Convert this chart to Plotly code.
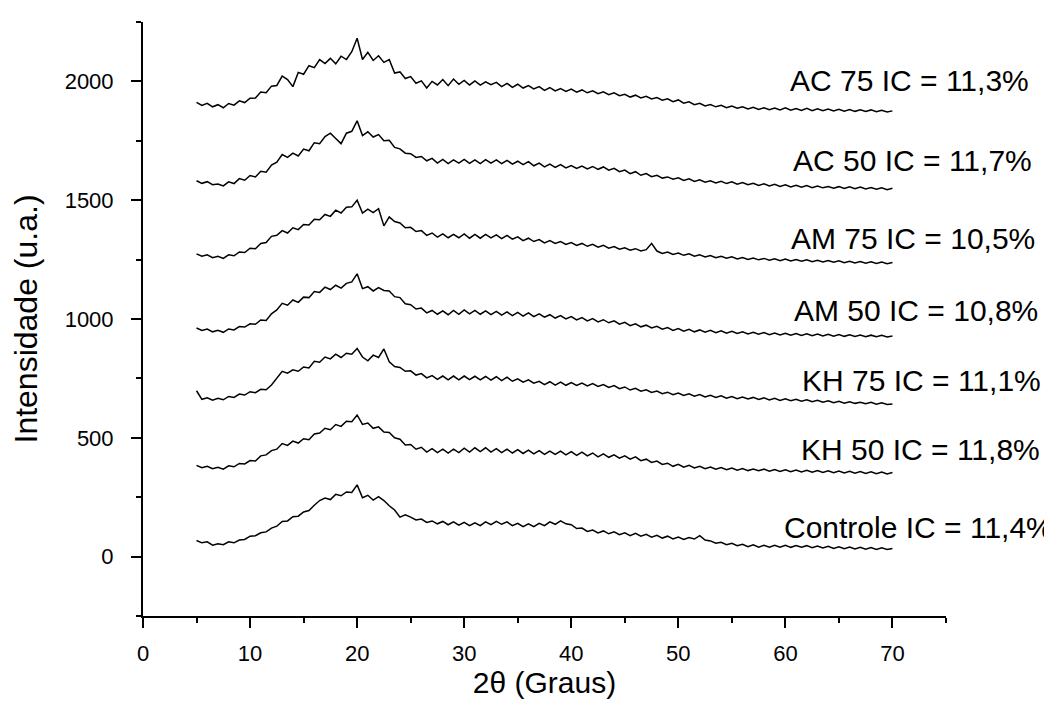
import plotly.graph_objects as go

# 2-theta sampling grid (degrees), 5.0 .. 70.0 every 0.5
two_theta = [5.0 + 0.5 * i for i in range(131)]

ac75 = [
    1912, 1899, 1908, 1893, 1902, 1889, 1907, 1900, 1918, 1911,
    1929, 1930, 1955, 1952, 1980, 1983, 2022, 2008, 1978, 2038,
    2030, 2066, 2058, 2092, 2075, 2097, 2074, 2106, 2092, 2125,
    2182, 2092, 2122, 2088, 2108, 2080, 2092, 2035, 2040, 2012,
    2020, 1992, 2002, 1972, 2000, 1985, 2008, 1982, 2010, 1988,
    2004, 1985, 2002, 1984, 1998, 1986, 1996, 1978, 1992, 1975,
    1988, 1972, 1982, 1968, 1978, 1962, 1974, 1960, 1970, 1958,
    1968, 1955, 1964, 1952, 1960, 1948, 1956, 1944, 1952, 1940,
    1946, 1934, 1942, 1930, 1937, 1926, 1932, 1921, 1927, 1915,
    1922, 1908, 1914, 1902, 1908, 1897, 1903, 1893, 1899, 1889,
    1896, 1887, 1893, 1884, 1891, 1882, 1889, 1881, 1888, 1880,
    1889, 1879, 1886, 1878, 1887, 1877, 1885, 1877, 1884, 1876,
    1883, 1875, 1882, 1874, 1881, 1873, 1880, 1872, 1878, 1871,
    1876,
]

ac50 = [
    1582, 1571, 1578, 1565, 1568, 1560, 1577, 1570, 1591, 1584,
    1604, 1598, 1622, 1618, 1648, 1660, 1692, 1680, 1698, 1686,
    1715, 1708, 1742, 1738, 1768, 1782, 1760, 1738, 1782, 1790,
    1834, 1772, 1788, 1766, 1776, 1750, 1752, 1722, 1716, 1698,
    1696, 1680, 1684, 1666, 1676, 1656, 1672, 1654, 1670, 1656,
    1672, 1655, 1670, 1654, 1671, 1656, 1670, 1654, 1668, 1652,
    1664, 1650, 1662, 1645, 1656, 1640, 1652, 1638, 1650, 1636,
    1646, 1634, 1644, 1632, 1642, 1630, 1640, 1626, 1634, 1620,
    1627, 1612, 1620, 1605, 1612, 1599, 1605, 1593, 1598, 1588,
    1594, 1583, 1590, 1579, 1586, 1576, 1582, 1573, 1580, 1570,
    1577, 1567, 1574, 1565, 1571, 1562, 1569, 1560, 1567, 1558,
    1565, 1556, 1563, 1555, 1562, 1553, 1560, 1552, 1558, 1550,
    1557, 1549, 1556, 1548, 1555, 1547, 1553, 1546, 1552, 1544,
    1550,
]

am75 = [
    1274, 1264, 1270, 1258, 1264, 1255, 1270, 1266, 1282, 1280,
    1298, 1296, 1318, 1322, 1348, 1352, 1372, 1362, 1384, 1376,
    1398, 1396, 1420, 1418, 1440, 1432, 1458, 1446, 1470, 1472,
    1500, 1446, 1462, 1448, 1464, 1392, 1430, 1410, 1404, 1384,
    1386, 1368, 1372, 1352, 1362, 1345, 1358, 1342, 1356, 1342,
    1358, 1340, 1356, 1340, 1356, 1341, 1354, 1338, 1352, 1336,
    1346, 1330, 1340, 1326, 1334, 1320, 1330, 1318, 1326, 1314,
    1322, 1310, 1318, 1306, 1314, 1302, 1310, 1298, 1305, 1294,
    1300, 1290, 1296, 1286, 1292, 1318, 1286, 1276, 1282, 1272,
    1278, 1268, 1274, 1264, 1270, 1261, 1267, 1258, 1264, 1256,
    1262, 1253, 1259, 1251, 1257, 1249, 1255, 1247, 1253, 1245,
    1252, 1244, 1250, 1243, 1249, 1241, 1247, 1240, 1246, 1239,
    1245, 1237, 1243, 1236, 1242, 1235, 1241, 1234, 1240, 1233,
    1238,
]

am50 = [
    962, 952, 958, 946, 952, 944, 958, 954, 968, 966,
    980, 978, 996, 994, 1022, 1038, 1066, 1058, 1080, 1070,
    1092, 1090, 1116, 1112, 1134, 1124, 1142, 1130, 1150, 1156,
    1190, 1128, 1136, 1118, 1132, 1120, 1118, 1094, 1090, 1064,
    1060, 1042, 1046, 1026, 1036, 1020, 1034, 1018, 1036, 1020,
    1038, 1022, 1036, 1020, 1034, 1018, 1032, 1016, 1030, 1014,
    1028, 1012, 1026, 1010, 1022, 1008, 1018, 1004, 1014, 1000,
    1010, 996, 1006, 992, 1002, 988, 997, 984, 992, 978,
    986, 972, 980, 967, 974, 962, 969, 957, 964, 952,
    960, 949, 957, 946, 954, 944, 952, 942, 950, 940,
    948, 939, 946, 937, 944, 936, 943, 934, 941, 933,
    940, 932, 939, 931, 938, 930, 937, 929, 936, 928,
    935, 927, 934, 926, 933, 925, 932, 925, 931, 924,
    928,
]

kh75 = [
    698, 662, 668, 658, 666, 660, 674, 670, 684, 680,
    694, 690, 704, 702, 722, 750, 780, 772, 786, 780,
    798, 794, 822, 818, 840, 832, 852, 838, 856, 852,
    876, 840, 824, 848, 838, 874, 820, 800, 796, 780,
    782, 764, 770, 752, 762, 746, 760, 744, 760, 744,
    760, 745, 759, 744, 758, 743, 757, 741, 755, 738,
    748, 734, 744, 730, 738, 724, 736, 722, 734, 721,
    732, 720, 730, 718, 728, 716, 724, 712, 720, 707,
    714, 701, 708, 696, 702, 691, 697, 686, 692, 681,
    688, 678, 685, 675, 682, 672, 679, 670, 677, 667,
    674, 665, 672, 663, 670, 661, 668, 659, 666, 657,
    664, 656, 662, 654, 660, 652, 658, 650, 656, 648,
    654, 646, 652, 645, 650, 643, 649, 641, 647, 640,
    642,
]

kh50 = [
    384, 374, 380, 370, 376, 368, 382, 378, 392, 390,
    404, 402, 424, 428, 446, 452, 476, 468, 486, 478,
    496, 492, 516, 520, 540, 534, 556, 548, 570, 568,
    596, 556, 562, 540, 546, 524, 522, 500, 494, 470,
    472, 452, 460, 440, 454, 438, 452, 436, 452, 438,
    456, 440, 458, 442, 458, 440, 454, 438, 452, 436,
    450, 434, 448, 432, 446, 430, 444, 430, 444, 428,
    442, 426, 440, 424, 436, 420, 432, 418, 428, 414,
    424, 410, 420, 404, 410, 396, 402, 388, 393, 380,
    388, 376, 384, 373, 380, 370, 377, 368, 375, 366,
    373, 364, 371, 362, 369, 361, 368, 359, 366, 358,
    365, 357, 364, 356, 363, 355, 362, 354, 361, 353,
    360, 352, 359, 351, 358, 350, 357, 349, 356, 348,
    354,
]

controle = [
    68, 58, 62, 48, 54, 50, 62, 58, 70, 72,
    86, 88, 100, 104, 120, 128, 148, 150, 168, 170,
    188, 194, 216, 236, 246, 240, 262, 256, 272, 270,
    302, 248, 258, 238, 252, 236, 214, 196, 166, 176,
    166, 154, 158, 144, 150, 138, 148, 134, 146, 132,
    144, 130, 142, 130, 146, 134, 148, 136, 146, 130,
    140, 126, 138, 126, 140, 130, 146, 136, 150, 138,
    134, 118, 120, 106, 112, 100, 108, 96, 104, 92,
    100, 88, 98, 86, 94, 82, 90, 78, 86, 74,
    82, 72, 80, 74, 88, 70, 66, 56, 60, 50,
    56, 46, 52, 42, 50, 40, 48, 40, 48, 40,
    48, 39, 47, 39, 46, 37, 44, 36, 43, 34,
    41, 33, 40, 32, 39, 31, 38, 30, 37, 30,
    34,
]

series = [ac75, ac50, am75, am50, kh75, kh50, controle]
labels = [
    "AC 75 IC = 11,3%",
    "AC 50 IC = 11,7%",
    "AM 75 IC = 10,5%",
    "AM 50 IC = 10,8%",
    "KH 75 IC = 11,1%",
    "KH 50 IC = 11,8%",
    "Controle IC = 11,4%",
]
# label anchor: right edge (in 2-theta units, beyond the axis end) and middle y
label_x = [82.9, 83.2, 83.5, 83.8, 84.1, 84.0, 85.2]
label_y = [2004, 1668, 1340, 1037, 743, 449, 121]

X_MIN, X_MAX = 0, 75
FONT = "Liberation Sans, Arial, sans-serif"

fig = go.Figure()
for vals, name in zip(series, labels):
    fig.add_trace(go.Scatter(
        x=two_theta, y=vals, mode="lines", name=name,
        line=dict(color="black", width=1.5), showlegend=False,
    ))

for txt, lx, ly in zip(labels, label_x, label_y):
    fig.add_annotation(
        x=(lx - X_MIN) / (X_MAX - X_MIN), y=ly, xref="paper", yref="y",
        text=txt, showarrow=False,
        xanchor="right", yanchor="middle",
        font=dict(family=FONT, size=30, color="black"),
    )

axis_common = dict(
    showline=True, linewidth=2, linecolor="black", mirror=False,
    showgrid=False, zeroline=False, automargin=False,
    ticks="outside", ticklen=10, tickwidth=2, tickcolor="black",
    tickfont=dict(family=FONT, size=22, color="black"),
)

fig.update_xaxes(
    range=[X_MIN, X_MAX], tickmode="linear", tick0=0, dtick=10,
    minor=dict(ticks="outside", ticklen=5, tickwidth=2, tickcolor="black",
               tick0=5, dtick=10),
    title=dict(text="2θ (Graus)", font=dict(family=FONT, size=30, color="black"),
               standoff=3),
    ticklabelstandoff=7,
    **axis_common,
)
fig.update_yaxes(
    range=[-250, 2250], tickmode="linear", tick0=0, dtick=500,
    minor=dict(ticks="outside", ticklen=5, tickwidth=2, tickcolor="black",
               tick0=250, dtick=500),
    title=dict(text="Intensidade (u.a.)", font=dict(family=FONT, size=32, color="black"),
               standoff=17),
    ticklabelstandoff=13,
    **axis_common,
)

fig.update_layout(
    width=1052, height=701,
    margin=dict(l=135, r=114, t=14, b=93),
    plot_bgcolor="white", paper_bgcolor="white",
    font=dict(family=FONT, color="black"),
)

fig.write_html("out.html")
